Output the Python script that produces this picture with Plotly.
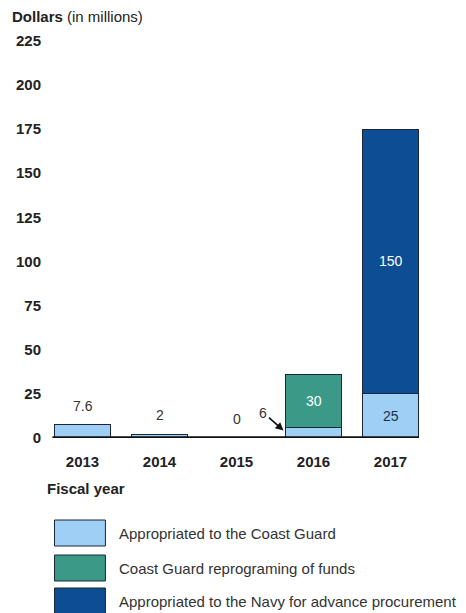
import plotly.graph_objects as go

years = ["2013", "2014", "2015", "2016", "2017"]
coast_guard = [7.6, 2, 0, 6, 25]
reprogramming = [0, 0, 0, 30, 0]
navy = [0, 0, 0, 0, 150]
series_names = ["Appropriated to the Coast Guard",
                "Coast Guard reprograming of funds",
                "Appropriated to the Navy for advance procurement"]
y_ticks = [0, 25, 50, 75, 100, 125, 150, 175, 200, 225]

colors = ["#9fcff5", "#3a9987", "#0c4d94"]
outline = "#1b2636"
FONT = "Liberation Sans, Arial, sans-serif"
# page body has an 8px margin, so the figure is drawn 8px in from the window
OFF = 8
W, H = 466 - OFF, 613 - OFF
ml, mr, mt, mb = 43.5 - OFF, 37, 32 - OFF, 613 - 438
ymax = 230
bar_w = 0.74

fig = go.Figure()
series = [coast_guard, reprogramming, navy]
for name, vals, col in zip(series_names, series, colors):
    fig.add_trace(go.Bar(x=years, y=vals, name=name, marker_color=col,
                         marker_line=dict(color=outline, width=1),
                         width=bar_w, showlegend=False))

lab_font = dict(size=14, color="#333333", family=FONT)
annotations = []
totals = [a + b + c for a, b, c in zip(coast_guard, reprogramming, navy)]
# totals above small bars (x given as category index)
for i in range(3):
    annotations.append(dict(x=i, y=totals[i], xref="x", yref="y", text=f"{totals[i]:g}",
                            showarrow=False, yshift=19, font=lab_font))
# 6 with arrow for 2016
annotations.append(dict(x=3 - bar_w / 2 - 0.02, y=coast_guard[3] * 0.7, xref="x", yref="y",
                        text=f"{coast_guard[3]:g}", showarrow=True, arrowhead=2, arrowsize=1,
                        arrowwidth=1.6, arrowcolor="#111111", ax=-20, ay=-18, font=lab_font))
# inside labels
annotations.append(dict(x=3, y=coast_guard[3] + reprogramming[3] / 2, xref="x", yref="y",
                        text=f"{reprogramming[3]:g}", showarrow=False,
                        font=dict(size=14, color="white", family=FONT)))
annotations.append(dict(x=4, y=coast_guard[4] / 2, xref="x", yref="y",
                        text=f"{coast_guard[4]:g}", showarrow=False,
                        font=dict(size=14, color="#1b2f4a", family=FONT)))
annotations.append(dict(x=4, y=coast_guard[4] + navy[4] / 2, xref="x", yref="y",
                        text=f"{navy[4]:g}", showarrow=False,
                        font=dict(size=14, color="white", family=FONT)))

pw = W - ml - mr
ph = H - mt - mb
def px_x(px):
    return (px - OFF - ml) / pw
def px_y(py):
    return (H - mb - (py - OFF)) / ph

# Fiscal year label
annotations.append(dict(xref="paper", yref="paper", x=px_x(45), y=px_y(488), xanchor="left",
                        yanchor="middle", text="<b>Fiscal year</b>", showarrow=False,
                        font=dict(size=15, color="#222222", family=FONT)))

shapes = [dict(type="line", xref="x", yref="y", x0=-bar_w / 2 - 0.02, x1=4 + bar_w / 2,
               y0=0, y1=0, line=dict(color="#111111", width=3.5))]

# custom legend
box_tops = [520, 555, 588]
for name, col, top in zip(series_names, colors, box_tops):
    shapes.append(dict(type="rect", xref="paper", yref="paper",
                       x0=px_x(54), x1=px_x(105), y0=px_y(top), y1=px_y(top + 26),
                       fillcolor=col, line=dict(color=outline, width=1)))
    annotations.append(dict(xref="paper", yref="paper", x=px_x(117), y=px_y(top + 13),
                            xanchor="left", yanchor="middle", text=name, showarrow=False,
                            font=dict(size=15, color="#333333", family=FONT)))

fig.update_layout(
    width=W, height=H, barmode="stack",
    margin=dict(l=ml, r=mr, t=mt, b=mb, pad=0),
    plot_bgcolor="white", paper_bgcolor="white",
    title=dict(text="<b>Dollars</b> (in millions)", xref="container", yref="container",
               x=(12 - OFF) / W, y=1 - (17 - OFF) / H, xanchor="left", yanchor="middle",
               font=dict(size=15, color="#222222", family=FONT)),
    xaxis=dict(type="category", range=[-0.5, 4.5], showgrid=False, showline=False,
               automargin=False,
               ticks="", tickfont=dict(size=15, color="#222222", family=FONT),
               tickprefix="<b>", ticksuffix="</b>", ticklabelstandoff=13),
    yaxis=dict(range=[0, ymax], tickvals=y_ticks, ticktext=[f"<b>{v}</b>" for v in y_ticks],
               showgrid=False, zeroline=False, showline=False, ticks="", automargin=False,
               tickfont=dict(size=15, color="#222222", family=FONT), ticklabelstandoff=2),
    annotations=annotations, shapes=shapes, bargap=0.26,
)

fig.write_html("out.html")
